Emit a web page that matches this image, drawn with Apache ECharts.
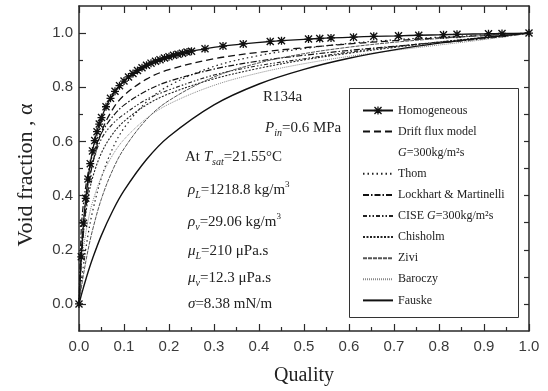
<!DOCTYPE html>
<html><head><meta charset="utf-8">
<script src="https://cdn.jsdelivr.net/npm/echarts@6/dist/echarts.min.js"></script>
<style>html,body{margin:0;padding:0;background:#fff}#c{width:548px;height:391px}</style>
</head><body><div id="c"></div>
<script>
// Homogeneous model (points with markers)
const homX = [0, 0.005, 0.01, 0.015, 0.02, 0.025, 0.03, 0.035, 0.04, 0.045, 0.05, 0.06, 0.07, 0.08, 0.09, 0.10, 0.11, 0.12, 0.13, 0.14, 0.15, 0.16, 0.17, 0.18, 0.19, 0.20, 0.21, 0.22, 0.23, 0.24, 0.25, 0.28, 0.32, 0.365, 0.425, 0.45, 0.51, 0.535, 0.56, 0.61, 0.655, 0.71, 0.755, 0.81, 0.84, 0.91, 0.94, 1.0];
const homY = [0, .174, .298, .390, .461, .518, .565, .603, .636, .664, .688, .728, .759, .785, .806, .823, .838, .851, .862, .872, .881, .889, .896, .902, .908, .913, .918, .922, .926, .930, .933, .942, .952, .960, .969, .972, .978, .980, .982, .985, .988, .990, .992, .994, .9955, .9976, .9985, 1];
// Quality grid for the other correlations
const qX = [0, 0.005, 0.01, 0.02, 0.03, 0.05, 0.075, 0.1, 0.15, 0.2, 0.3, 0.4, 0.5, 0.6, 0.7, 0.8, 0.9, 1.0];
const driftY  = [0, .154, .266, .418, .516, .635, .719, .770, .830, .865, .905, .929, .946, .960, .972, .982, .991, 1];
const thomY   = [0, .077, .144, .254, .340, .467, .575, .649, .746, .806, .877, .917, .943, .962, .975, .985, .993, 1];
const lmY     = [0, .275, .372, .482, .548, .631, .692, .734, .787, .822, .867, .897, .918, .936, .951, .965, .979, 1];
const ciseY   = [0, .200, .310, .440, .520, .610, .665, .700, .755, .790, .845, .880, .905, .930, .950, .967, .983, 1];
const chisY   = [0, .161, .263, .388, .465, .558, .628, .674, .735, .776, .831, .870, .901, .926, .947, .967, .984, 1];
const ziviY   = [0, .057, .109, .198, .272, .389, .495, .573, .681, .751, .838, .890, .924, .948, .966, .980, .991, 1];
const barY    = [0, .135, .207, .306, .375, .470, .550, .607, .685, .738, .807, .853, .887, .914, .936, .956, .976, 1];
const fauskeY = [0, .0315, .061, .117, .167, .254, .344, .418, .533, .618, .735, .812, .866, .907, .938, .963, .983, 1];
// Tick values
const yMajor = [0, 0.2, 0.4, 0.6, 0.8, 1.0];
const yMinor = [0.1, 0.3, 0.5, 0.7, 0.9];
const yAll = [0, 0.1, 0.2, 0.3, 0.4, 0.5, 0.6, 0.7, 0.8, 0.9, 1.0];

const pair = (xs, ys) => xs.map((x, i) => [x, ys[i]]);
const SERIF = 'Liberation Serif';
const SANS = 'Liberation Sans';
const AX = '#2a2a2a';
const star = 'path://M0,1.2L1.2,0L5,3.8L8.8,0L10,1.2L6.2,5L10,8.8L8.8,10L5,6.2L1.2,10L0,8.8L3.8,5Z M0,4.2L10,4.2L10,5.8L0,5.8Z M4.2,0L5.8,0L5.8,10L4.2,10Z';
const CLEAR = 'rgba(0,0,0,0)';

function line(name, data, type, color, width) {
  return {
    name, type: 'line', data, smooth: 0.35, showSymbol: false, symbol: 'circle', symbolSize: 0,
    lineStyle: {color, width, type}, itemStyle: {color: CLEAR, borderWidth: 0}, z: 2
  };
}

const series = [
  {name: 'Homogeneous', type: 'line', data: pair(homX, homY), smooth: 0.3,
   symbol: star, symbolSize: 8, showSymbol: true, lineStyle: {color: '#111', width: 1.3},
   itemStyle: {color: '#111'}, z: 5},
  line('Drift flux model', pair(qX, driftY), [7, 4], '#111', 1.3),
  {name: 'G=300kg/m²s', type: 'line', data: [], symbol: 'circle', symbolSize: 0,
   lineStyle: {width: 0, color: CLEAR}, itemStyle: {color: CLEAR, borderWidth: 0}},
  line('Thom', pair(qX, thomY), [1.5, 3], '#222', 1.2),
  line('Lockhart & Martinelli', pair(qX, lmY), [6, 2, 1.5, 2], '#111', 1.2),
  line('CISE G=300kg/m²s', pair(qX, ciseY), [4, 2, 1.5, 2, 1.5, 2], '#222', 1.1),
  line('Chisholm', pair(qX, chisY), [2, 1.5], '#222', 1.1),
  line('Zivi', pair(qX, ziviY), [4, 1], '#555', 1),
  line('Baroczy', pair(qX, barY), [1, 1], '#888', 1),
  line('Fauske', pair(qX, fauskeY), 'solid', '#111', 1.4)
];

const legendNames = {
  'Homogeneous': 'Homogeneous',
  'Drift flux model': 'Drift flux model',
  'G=300kg/m²s': '{i|G}=300kg/m²s',
  'Thom': 'Thom',
  'Lockhart & Martinelli': 'Lockhart & Martinelli',
  'CISE G=300kg/m²s': 'CISE {i|G}=300kg/m²s',
  'Chisholm': 'Chisholm',
  'Zivi': 'Zivi',
  'Baroczy': 'Baroczy',
  'Fauske': 'Fauske'
};

const richTxt = {
  i: {fontFamily: SERIF, fontSize: 15, fontStyle: 'italic', fill: '#222', lineHeight: 20},
  sub: {fontFamily: SERIF, fontSize: 10, fontStyle: 'italic', fill: '#222', lineHeight: 10, verticalAlign: 'bottom'},
  sup: {fontFamily: SERIF, fontSize: 9, fill: '#222', lineHeight: 9, verticalAlign: 'top'}
};
function txt(text, left, top) {
  return {type: 'text', left, top, z: 10,
    style: {text, fontFamily: SERIF, fontSize: 15, fill: '#222', lineHeight: 20, rich: richTxt}};
}

const chart = echarts.init(document.getElementById('c'), null, {renderer: 'canvas'});
chart.setOption({
  animation: false,
  backgroundColor: '#fff',
  grid: {left: 79, right: 19, top: 6, bottom: 59, containLabel: false},
  xAxis: [
    {type: 'value', min: 0, max: 1, interval: 0.1, position: 'bottom',
     name: 'Quality', nameLocation: 'middle', nameGap: 35,
     nameTextStyle: {fontFamily: SERIF, fontSize: 20, color: '#222'},
     axisLine: {show: true, onZero: false, lineStyle: {color: AX, width: 1.5}},
     axisTick: {show: true, inside: true, length: 7, lineStyle: {color: AX, width: 1.2}},
     minorTick: {show: true, splitNumber: 2, length: 4, lineStyle: {color: AX, width: 1.2}},
     axisLabel: {fontFamily: SANS, fontSize: 15, color: '#3a3a3a', margin: 8, formatter: v => v.toFixed(1)},
     splitLine: {show: false}},
    {type: 'value', min: 0, max: 1, interval: 0.1, position: 'top',
     axisLine: {show: true, onZero: false, lineStyle: {color: AX, width: 1.5}},
     axisTick: {show: true, inside: true, length: 7, lineStyle: {color: AX, width: 1.2}},
     minorTick: {show: true, splitNumber: 2, length: 4, lineStyle: {color: AX, width: 1.2}},
     axisLabel: {show: false}, splitLine: {show: false}}
  ],
  yAxis: [
    {type: 'value', min: -0.1, max: 1.1, position: 'left',
     axisLine: {show: true, onZero: false, lineStyle: {color: AX, width: 1.5}},
     axisTick: {show: true, inside: true, length: 7, customValues: yMajor, lineStyle: {color: AX, width: 1.2}},
     axisLabel: {fontFamily: SANS, fontSize: 15, color: '#3a3a3a', margin: 6, customValues: yMajor, formatter: v => v.toFixed(1)},
     splitLine: {show: false}},
    {type: 'value', min: -0.1, max: 1.1, position: 'left',
     axisLine: {show: false},
     axisTick: {show: true, inside: true, length: 4, customValues: yMinor, lineStyle: {color: AX, width: 1.2}},
     axisLabel: {show: false}, splitLine: {show: false}},
    {type: 'value', min: -0.1, max: 1.1, position: 'right',
     axisLine: {show: true, onZero: false, lineStyle: {color: AX, width: 1.5}},
     axisTick: {show: true, inside: true, length: 5, customValues: yAll, lineStyle: {color: AX, width: 1.2}},
     axisLabel: {show: false}, splitLine: {show: false}}
  ],
  legend: {
    orient: 'vertical', left: 362, top: 104, padding: 0,
    itemWidth: 30, itemHeight: 10, itemGap: 8.1,
    data: series.map(s => s.name),
    formatter: n => legendNames[n],
    textStyle: {fontFamily: SERIF, fontSize: 12, color: '#222', lineHeight: 13,
      rich: {i: {fontFamily: SERIF, fontSize: 12, fontStyle: 'italic', color: '#222', lineHeight: 13}}},
    selectedMode: false
  },
  graphic: [
    {type: 'rect', left: 349, top: 88, z: 1,
     shape: {width: 169, height: 229}, style: {fill: '#fff', stroke: '#333', lineWidth: 1}},
    {type: 'text', x: 26, y: 175, rotation: Math.PI / 2, z: 10,
     style: {text: 'Void fraction , α', fontFamily: SERIF, fontSize: 22, fill: '#222', align: 'center', verticalAlign: 'middle'}},
    txt('R134a', 263, 87),
    txt('{i|P}{sub|in}=0.6 MPa', 265, 118),
    txt('At {i|T}{sub|sat}=21.55°C', 185, 147),
    txt('{i|ρ}{sub|L}=1218.8 kg/m{sup|3}', 188, 180),
    txt('{i|ρ}{sub|v}=29.06 kg/m{sup|3}', 188, 212),
    txt('{i|μ}{sub|L}=210 μPa.s', 188, 241),
    txt('{i|μ}{sub|v}=12.3 μPa.s', 188, 268),
    txt('{i|σ}=8.38 mN/m', 188, 294)
  ],
  series: series.map(s => Object.assign({xAxisIndex: 0, yAxisIndex: 0}, s))
});
</script></body></html>
